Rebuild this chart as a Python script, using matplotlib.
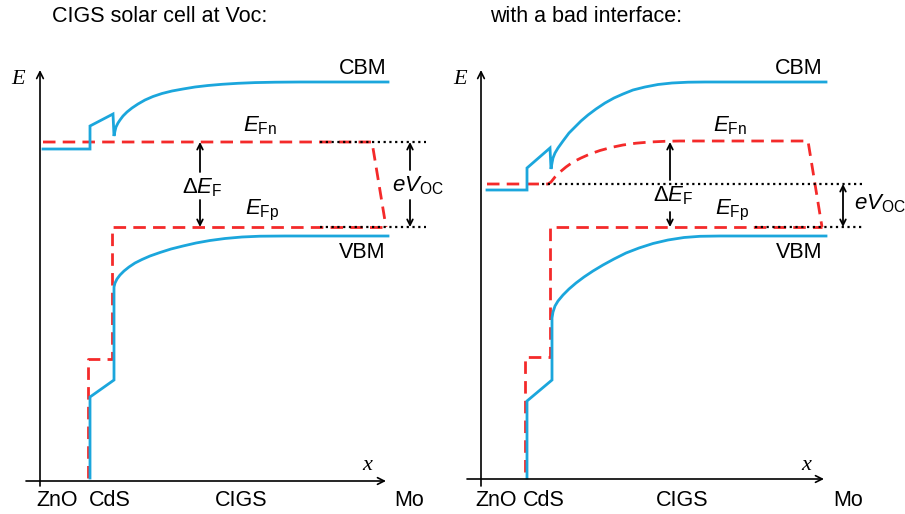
import matplotlib
matplotlib.use("Agg")
import matplotlib.pyplot as plt

plt.rcParams['font.family'] = ['Liberation Sans', 'DejaVu Sans']
plt.rcParams['mathtext.fontset'] = 'custom'
plt.rcParams['mathtext.rm'] = 'Liberation Sans'
plt.rcParams['mathtext.it'] = 'Liberation Sans:italic'
plt.rcParams['mathtext.bf'] = 'Liberation Sans:bold'

# ---------------- data (diagram coordinates, y grows downward) ----------------
titles = ["CIGS solar cell at Voc:", "with a bad interface:"]
layer_labels = ["ZnO", "CdS", "CIGS", "Mo"]

# Left panel: conduction band (ZnO step, CdS spike, CIGS bending)
L_cb_x = [43, 90, 90, 113, 114, 115, 116, 118, 120, 123, 127, 132, 138, 145, 153, 162,
          172, 183, 195, 208, 222, 238, 255, 275, 300, 388]
L_cb_y = [149, 149, 126, 114, 136, 131, 127, 123, 120, 116, 112, 108, 104, 100, 96.5, 93.5,
          91, 89, 87, 85.5, 84.3, 83.3, 82.6, 82.2, 82, 82]
# Left panel: valence band
L_vb_x = [90, 90, 114, 114, 115, 117, 120, 124, 129, 135, 142, 150, 160, 171, 183, 196,
          210, 225, 242, 260, 285, 388]
L_vb_y = [478, 397, 380, 287, 283, 279, 275, 271, 267, 263, 259.5, 256, 252.5, 249, 246, 243,
          240.5, 238.5, 237, 236.2, 236, 236]
# Left panel: quasi Fermi levels
L_efn_x = [43, 372, 386]
L_efn_y = [142, 142, 227]
L_efp_x = [88, 88, 112, 112, 386]
L_efp_y = [478, 359, 359, 227, 227]

# Right panel: conduction band
R_cb_x = [487, 527, 527, 550, 551, 552, 553, 555, 558, 563, 569, 575, 581, 588, 596, 605,
          614, 623, 633, 645, 658, 672, 688, 705, 826]
R_cb_y = [190, 190, 168, 148, 169, 163, 158, 153, 148, 141, 133, 127, 121, 115, 109, 103,
          98, 94, 90, 87, 84.5, 83, 82.2, 82, 82]
# Right panel: valence band
R_vb_x = [527, 527, 552, 552, 553, 555, 558, 563, 569, 576, 584, 593, 603, 614, 626, 639,
          653, 668, 684, 700, 720, 826]
R_vb_y = [478, 401, 380, 318, 312, 306, 301, 295, 289, 283, 277, 271, 265, 259, 253, 248,
          243.5, 240, 237.5, 236.3, 236, 236]
# Right panel: quasi Fermi levels
R_efn_x = [487, 548, 551, 555, 560, 566, 573, 581, 590, 600, 611, 623, 636, 650, 665, 680, 808, 822]
R_efn_y = [184, 184, 182, 177, 172, 167, 162, 158, 154, 150.5, 147.5, 145, 143.2, 142, 141.3, 141, 141, 227]
R_efp_x = [525, 525, 550, 550, 822]
R_efp_y = [472, 357, 357, 227, 227]

BLUE = '#1ba6dc'
RED = '#f42a2a'

fig = plt.figure(figsize=(9.05, 5.14), dpi=100)
ax = fig.add_axes([0, 0, 1, 1])
ax.set_xlim(0, 905)
ax.set_ylim(514, 0)
ax.axis('off')

def arrow(x0, y0, x1, y1, lw=1.3, ms=10):
    ax.annotate('', xy=(x1, y1), xytext=(x0, y0),
                arrowprops=dict(arrowstyle='->', lw=lw, color='black',
                                mutation_scale=ms, shrinkA=0, shrinkB=0))

dash = (0, (4.5, 2.6))
dot = (0, (1, 1.6))

# ---------- left panel ----------
arrow(40, 486, 40, 70, lw=1.2, ms=12)
arrow(26, 481, 386, 481, lw=1.2, ms=12)
ax.plot(L_efn_x, L_efn_y, color=RED, lw=2, linestyle=dash)
ax.plot(L_efp_x, L_efp_y, color=RED, lw=2, linestyle=dash)
ax.plot(L_cb_x, L_cb_y, color=BLUE, lw=2, solid_joinstyle='miter')
ax.plot(L_vb_x, L_vb_y, color=BLUE, lw=2, solid_joinstyle='miter')
ax.plot([320, 426], [142, 142], color='black', lw=1.6, linestyle=dot)
ax.plot([320, 426], [227, 227], color='black', lw=1.6, linestyle=dot)
arrow(200, 172, 200, 142)
arrow(200, 200, 200, 227)
arrow(410, 170, 410, 142)
arrow(410, 200, 410, 227)
ax.text(52, 17, titles[0], fontsize=15.5, ha='left', va='center')
ax.text(18, 80, 'E', fontsize=16, fontfamily='Liberation Serif', fontstyle='italic', ha='center', va='center')
ax.text(367, 466, 'x', fontsize=16, fontfamily='Liberation Serif', fontstyle='italic', ha='center', va='center')
ax.text(363, 68, 'CBM', fontsize=15.5, ha='center', va='center')
ax.text(362, 252, 'VBM', fontsize=15.5, ha='center', va='center')
ax.text(243, 126, r'$E_{\mathrm{Fn}}$', fontsize=16, ha='left', va='center')
ax.text(245, 210, r'$E_{\mathrm{Fp}}$', fontsize=16, ha='left', va='center')
ax.text(202, 188, r'$\Delta E_{\mathrm{F}}$', fontsize=16, ha='center', va='center')
ax.text(392, 186, r'$eV_{\mathrm{OC}}$', fontsize=16, ha='left', va='center')
for lab, xp in zip(layer_labels, [57, 110, 241, 409]):
    ax.text(xp, 501, lab, fontsize=15.5, ha='center', va='center')

# ---------- right panel ----------
arrow(481, 486, 481, 70, lw=1.2, ms=12)
arrow(467, 479, 824, 479, lw=1.2, ms=12)
ax.plot(R_efn_x, R_efn_y, color=RED, lw=2, linestyle=dash)
ax.plot(R_efp_x, R_efp_y, color=RED, lw=2, linestyle=dash)
ax.plot(R_cb_x, R_cb_y, color=BLUE, lw=2, solid_joinstyle='miter')
ax.plot(R_vb_x, R_vb_y, color=BLUE, lw=2, solid_joinstyle='miter')
ax.plot([542, 862], [184, 184], color='black', lw=1.6, linestyle=dot)
ax.plot([755, 862], [227, 227], color='black', lw=1.6, linestyle=dot)
arrow(670, 180, 670, 142)
arrow(670, 212, 670, 227)
ax.annotate('', xy=(843, 184), xytext=(843, 227),
            arrowprops=dict(arrowstyle='<->', lw=1.3, color='black',
                            mutation_scale=10, shrinkA=0, shrinkB=0))
ax.text(490, 17, titles[1], fontsize=15.5, ha='left', va='center')
ax.text(460, 80, 'E', fontsize=16, fontfamily='Liberation Serif', fontstyle='italic', ha='center', va='center')
ax.text(806, 466, 'x', fontsize=16, fontfamily='Liberation Serif', fontstyle='italic', ha='center', va='center')
ax.text(799, 68, 'CBM', fontsize=15.5, ha='center', va='center')
ax.text(799, 252, 'VBM', fontsize=15.5, ha='center', va='center')
ax.text(713, 126, r'$E_{\mathrm{Fn}}$', fontsize=16, ha='left', va='center')
ax.text(715, 210, r'$E_{\mathrm{Fp}}$', fontsize=16, ha='left', va='center')
ax.text(673, 196, r'$\Delta E_{\mathrm{F}}$', fontsize=16, ha='center', va='center')
ax.text(854, 204, r'$eV_{\mathrm{OC}}$', fontsize=16, ha='left', va='center')
for lab, xp in zip(layer_labels, [496, 544, 682, 848]):
    ax.text(xp, 501, lab, fontsize=15.5, ha='center', va='center')

fig.savefig('out.png', dpi=100)
